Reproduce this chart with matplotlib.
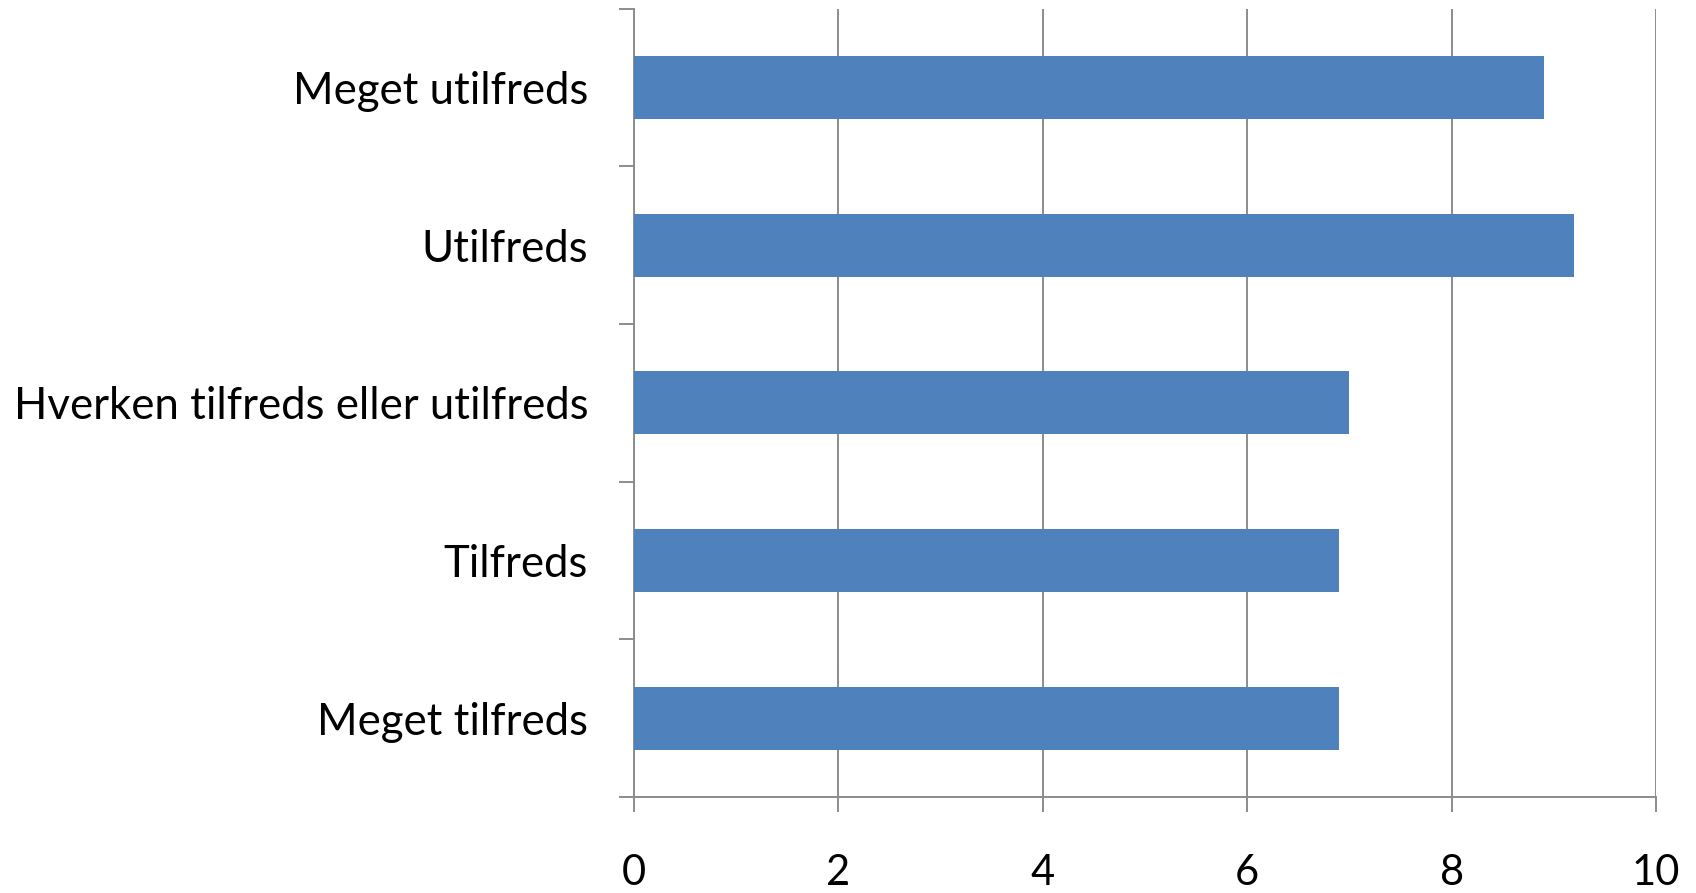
import numpy as np
import matplotlib
matplotlib.use("Agg")
from matplotlib import pyplot as plt

categories = ["Meget tilfreds", "Tilfreds", "Hverken tilfreds eller utilfreds",
              "Utilfreds", "Meget utilfreds"]
values = [6.9, 6.9, 7.0, 9.2, 8.9]
x_ticks = [0, 2, 4, 6, 8, 10]

plt.rcParams["font.family"] = ["Lato", "DejaVu Sans"]

fig = plt.figure(figsize=(16.96, 8.93), dpi=100)
ax = fig.add_axes([0.3738, 0.1075, 0.6026, 0.8826])

grey = "#8c8c8c"
y = np.arange(len(categories))
ax.barh(y, values, height=0.4, color="#4f81bd", zorder=3)

ax.set_xlim(0, 10)
ax.set_ylim(-0.5, len(categories) - 0.5)
ax.set_xticks(x_ticks)
ax.set_xticklabels([str(t) for t in x_ticks])
ax.set_yticks(y)
ax.set_yticklabels(categories)
ax.set_yticks(np.arange(-0.5, len(categories)), minor=True)

ax.grid(axis="x", color=grey, linewidth=1.4, zorder=0)
for side in ["top", "right"]:
    ax.spines[side].set_visible(False)
for side in ["left", "bottom"]:
    ax.spines[side].set_color(grey)
    ax.spines[side].set_linewidth(1.4)

ax.tick_params(axis="x", length=10.8, width=1.4, color=grey, pad=30,
               labelsize=30, labelcolor="black")
ax.tick_params(axis="y", which="major", length=0, pad=33, labelsize=31.5)
ax.tick_params(axis="y", which="minor", length=10.5, width=1.4, color=grey)

fig.savefig("out.png", dpi=100)
